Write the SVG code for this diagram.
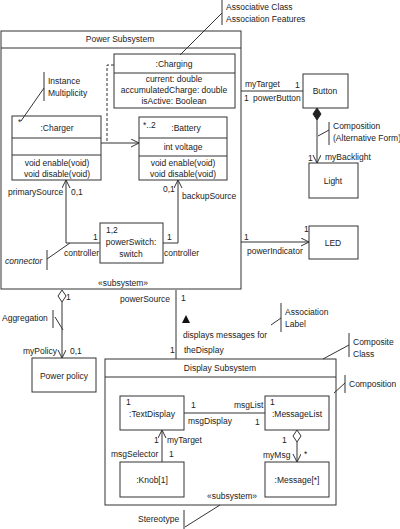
<svg xmlns="http://www.w3.org/2000/svg" width="400" height="529" viewBox="0 0 400 529">
<defs>
<style>
text{font-family:"Liberation Sans",Arial,sans-serif;font-size:8.5px;fill:#222}
.c{text-anchor:middle}
.box{fill:#fff;stroke:#333;stroke-width:1}
.ln{fill:none;stroke:#333;stroke-width:1}
.dash{fill:none;stroke:#333;stroke-width:1;stroke-dasharray:3,2}
.note{fill:none;stroke:#333;stroke-width:1}
</style>
<marker id="arr" markerWidth="10" markerHeight="10" refX="8" refY="4" orient="auto" markerUnits="userSpaceOnUse">
<path d="M0,0 L8,4 L0,8" fill="none" stroke="#333" stroke-width="1"/>
</marker>
</defs>
<rect width="400" height="529" fill="#fff"/>

<g id="power-subsystem">
<rect class="box" x="1" y="31" width="240" height="258"/>
<line class="ln" x1="1" y1="48" x2="241" y2="48"/>
<text class="c" x="120" y="42">Power Subsystem</text>
<text class="c" x="123" y="286">«subsystem»</text>
</g>

<g id="charging">
<rect class="box" x="114" y="54" width="121" height="54"/>
<line class="ln" x1="114" y1="73" x2="235" y2="73"/>
<text class="c" x="174" y="67">:Charging</text>
<text class="c" x="174" y="82">current: double</text>
<text class="c" x="174" y="93">accumulatedCharge: double</text>
<text class="c" x="174" y="104">isActive: Boolean</text>
</g>

<g id="charger">
<rect class="box" x="12" y="116" width="89" height="64"/>
<line class="ln" x1="12" y1="138" x2="101" y2="138"/>
<line class="ln" x1="12" y1="155" x2="101" y2="155"/>
<text x="18" y="125">*</text>
<text class="c" x="57" y="131">:Charger</text>
<text class="c" x="57" y="166">void enable(void)</text>
<text class="c" x="57" y="177">void disable(void)</text>
</g>

<g id="battery">
<rect class="box" x="139" y="117" width="88" height="63"/>
<line class="ln" x1="139" y1="138" x2="227" y2="138"/>
<line class="ln" x1="139" y1="156" x2="227" y2="156"/>
<text x="143" y="128">*..2</text>
<text class="c" x="186" y="131">:Battery</text>
<text class="c" x="183" y="150">int voltage</text>
<text class="c" x="183" y="166">void enable(void)</text>
<text class="c" x="183" y="177">void disable(void)</text>
</g>

<g id="powerswitch">
<rect class="box" x="100" y="223" width="63" height="40"/>
<text x="106" y="233">1,2</text>
<text class="c" x="131" y="245">powerSwitch:</text>
<text class="c" x="131" y="257">switch</text>
</g>

<g id="button">
<rect class="box" x="303" y="74" width="45" height="34"/>
<text class="c" x="325" y="94">Button</text>
</g>

<g id="light">
<rect class="box" x="309" y="163" width="49" height="35"/>
<text class="c" x="333" y="184">Light</text>
</g>

<g id="led">
<rect class="box" x="309" y="226" width="49" height="33"/>
<text class="c" x="333" y="246">LED</text>
</g>

<g id="power-policy">
<rect class="box" x="32" y="358" width="64" height="34"/>
<text class="c" x="64" y="379">Power policy</text>
</g>

<g id="display-subsystem">
<rect class="box" x="105" y="359" width="231" height="146"/>
<line class="ln" x1="105" y1="377" x2="336" y2="377"/>
<text class="c" x="220" y="371">Display Subsystem</text>
<text class="c" x="232" y="499">«subsystem»</text>
</g>

<g id="textdisplay">
<rect class="box" x="120" y="396" width="64" height="34"/>
<text x="126" y="405">1</text>
<text class="c" x="152" y="417">:TextDisplay</text>
</g>

<g id="messagelist">
<rect class="box" x="265" y="396" width="64" height="34"/>
<text x="270" y="405">1</text>
<text class="c" x="297" y="417">:MessageList</text>
</g>

<g id="knob">
<rect class="box" x="120" y="462" width="64" height="35"/>
<text class="c" x="152" y="483">:Knob[1]</text>
</g>

<g id="message">
<rect class="box" x="265" y="462" width="64" height="35"/>
<text class="c" x="297" y="483">:Message[*]</text>
</g>

<g id="connectors">
<line class="ln" x1="101" y1="143" x2="139" y2="143" marker-end="url(#arr)"/>
<polyline class="dash" points="114,65 107,65 107,143"/>
<line class="ln" x1="241" y1="91" x2="303" y2="91"/>
<text x="245" y="87">myTarget</text>
<text x="295" y="88">1</text>
<text x="244" y="101">1</text>
<text x="253" y="101">powerButton</text>
<polygon points="317,108 321,114 317,120 313,114" fill="#222" stroke="#222"/>
<line class="ln" x1="317" y1="120" x2="317" y2="163" marker-end="url(#arr)"/>
<text x="308" y="161">1</text>
<text x="325" y="160">myBacklight</text>
<line class="ln" x1="241" y1="242" x2="309" y2="242" marker-end="url(#arr)"/>
<text x="244" y="240">1</text>
<text x="247" y="254">powerIndicator</text>
<text x="304" y="232">1</text>
<polyline class="ln" points="100,243 66,243 66,180" marker-end="url(#arr)"/>
<text x="93" y="240">1</text>
<text x="64" y="256">controller</text>
<text x="8" y="195">primarySource</text>
<text x="71" y="195">0,1</text>
<polyline class="ln" points="163,243 178,243 178,180" marker-end="url(#arr)"/>
<text x="167" y="240">1</text>
<text x="164" y="256">controller</text>
<text x="163" y="192">0,1</text>
<text x="182" y="199">backupSource</text>
<polygon points="62,290 66,296 62,302 58,296" fill="#fff" stroke="#333"/>
<line class="ln" x1="62" y1="302" x2="62" y2="358" marker-end="url(#arr)"/>
<text x="66" y="300">1</text>
<text x="23" y="354">myPolicy</text>
<text x="70" y="354">0,1</text>
<line class="ln" x1="176" y1="290" x2="176" y2="359"/>
<text x="120" y="302">powerSource</text>
<text x="181" y="301">1</text>
<polygon points="182,323 186,315 190,323" fill="#111"/>
<text x="183" y="338">displays messages for</text>
<text x="170" y="353">1</text>
<text x="184" y="353">theDisplay</text>
<line class="ln" x1="184" y1="413" x2="265" y2="413"/>
<text x="191" y="408">1</text>
<text x="234" y="408">msgList</text>
<text x="188" y="424">msgDisplay</text>
<text x="255" y="425">1</text>
<line class="ln" x1="162" y1="462" x2="162" y2="430" marker-end="url(#arr)"/>
<text x="154" y="443">1</text>
<text x="167" y="443">myTarget</text>
<text x="111" y="457">msgSelector</text>
<text x="169" y="457">1</text>
<polygon points="297,430 301,436 297,442 293,436" fill="#fff" stroke="#333"/>
<line class="ln" x1="297" y1="442" x2="297" y2="462" marker-end="url(#arr)"/>
<text x="282" y="443">1</text>
<text x="263" y="458">myMsg</text>
<text x="304" y="457">*</text>
</g>

<g id="notes">
<line class="note" x1="44" y1="72" x2="44" y2="101"/>
<line class="note" x1="44" y1="88" x2="21" y2="121"/>
<text x="48" y="84">Instance</text>
<text x="48" y="96">Multiplicity</text>
<line class="note" x1="222" y1="0" x2="222" y2="25"/>
<line class="note" x1="222" y1="13" x2="180" y2="55"/>
<text x="226" y="10">Associative Class</text>
<text x="226" y="22">Association Features</text>
<line class="note" x1="329" y1="122" x2="329" y2="145"/>
<line class="note" x1="329" y1="130" x2="318" y2="136"/>
<text x="333" y="129">Composition</text>
<text x="333" y="141">(Alternative Form)</text>
<line class="note" x1="47" y1="250" x2="47" y2="270"/>
<line class="note" x1="47" y1="259" x2="70" y2="243"/>
<text x="5" y="264" font-style="italic">connector</text>
<line class="note" x1="53" y1="310" x2="53" y2="328"/>
<line class="note" x1="55" y1="317" x2="63" y2="330"/>
<text x="2" y="321">Aggregation</text>
<line class="note" x1="281" y1="303" x2="281" y2="332"/>
<line class="note" x1="281" y1="318" x2="271" y2="325"/>
<text x="285" y="315">Association</text>
<text x="285" y="327">Label</text>
<line class="note" x1="349" y1="333" x2="349" y2="357"/>
<line class="note" x1="349" y1="345" x2="323" y2="359"/>
<text x="353" y="345">Composite</text>
<text x="353" y="357">Class</text>
<line class="note" x1="345" y1="375" x2="345" y2="393"/>
<line class="note" x1="345" y1="383" x2="334" y2="393"/>
<text x="349" y="387">Composition</text>
<line class="note" x1="184" y1="510" x2="184" y2="529"/>
<line class="note" x1="185" y1="527" x2="220" y2="505"/>
<text x="138" y="522">Stereotype</text>
</g>
</svg>
